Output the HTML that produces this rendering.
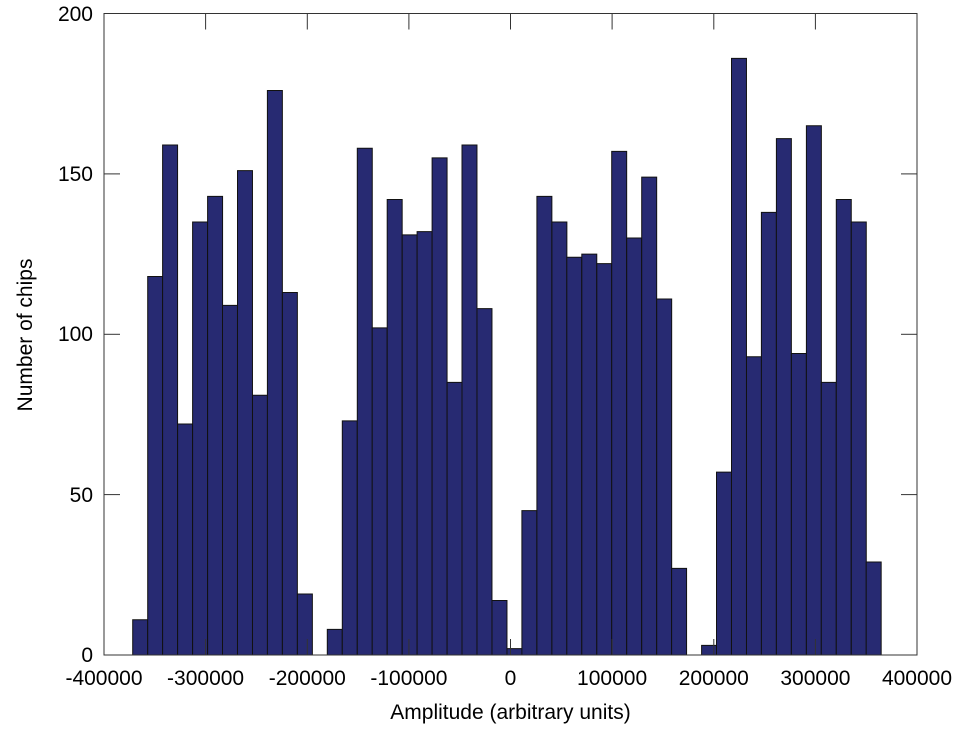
<!DOCTYPE html>
<html><head><style>
body{margin:0;background:#fff}
svg{display:block}
text{font-family:"Liberation Sans",Arial,sans-serif;font-size:21px;fill:#000}
.b rect{vector-effect:non-scaling-stroke}
</style></head><body>
<svg width="960" height="735" viewBox="0 0 960 735">
<g class="b" transform="translate(0,655) scale(1,-3.2075)" fill="#272a72" stroke="#111" stroke-width="1">
<rect x="132.7" y="0" width="14.97" height="11"/>
<rect x="147.7" y="0" width="14.97" height="118"/>
<rect x="162.6" y="0" width="14.97" height="159"/>
<rect x="177.6" y="0" width="14.97" height="72"/>
<rect x="192.6" y="0" width="14.97" height="135"/>
<rect x="207.6" y="0" width="14.97" height="143"/>
<rect x="222.5" y="0" width="14.97" height="109"/>
<rect x="237.5" y="0" width="14.97" height="151"/>
<rect x="252.5" y="0" width="14.97" height="81"/>
<rect x="267.4" y="0" width="14.97" height="176"/>
<rect x="282.4" y="0" width="14.97" height="113"/>
<rect x="297.4" y="0" width="14.97" height="19"/>
<rect x="327.3" y="0" width="14.97" height="8"/>
<rect x="342.3" y="0" width="14.97" height="73"/>
<rect x="357.3" y="0" width="14.97" height="158"/>
<rect x="372.2" y="0" width="14.97" height="102"/>
<rect x="387.2" y="0" width="14.97" height="142"/>
<rect x="402.2" y="0" width="14.97" height="131"/>
<rect x="417.1" y="0" width="14.97" height="132"/>
<rect x="432.1" y="0" width="14.97" height="155"/>
<rect x="447.1" y="0" width="14.97" height="85"/>
<rect x="462.0" y="0" width="14.97" height="159"/>
<rect x="477.0" y="0" width="14.97" height="108"/>
<rect x="492.0" y="0" width="14.97" height="17"/>
<rect x="507.0" y="0" width="14.97" height="2"/>
<rect x="521.9" y="0" width="14.97" height="45"/>
<rect x="536.9" y="0" width="14.97" height="143"/>
<rect x="551.9" y="0" width="14.97" height="135"/>
<rect x="566.8" y="0" width="14.97" height="124"/>
<rect x="581.8" y="0" width="14.97" height="125"/>
<rect x="596.8" y="0" width="14.97" height="122"/>
<rect x="611.7" y="0" width="14.97" height="157"/>
<rect x="626.7" y="0" width="14.97" height="130"/>
<rect x="641.7" y="0" width="14.97" height="149"/>
<rect x="656.7" y="0" width="14.97" height="111"/>
<rect x="671.6" y="0" width="14.97" height="27"/>
<rect x="701.6" y="0" width="14.97" height="3"/>
<rect x="716.5" y="0" width="14.97" height="57"/>
<rect x="731.5" y="0" width="14.97" height="186"/>
<rect x="746.5" y="0" width="14.97" height="93"/>
<rect x="761.4" y="0" width="14.97" height="138"/>
<rect x="776.4" y="0" width="14.97" height="161"/>
<rect x="791.4" y="0" width="14.97" height="94"/>
<rect x="806.4" y="0" width="14.97" height="165"/>
<rect x="821.3" y="0" width="14.97" height="85"/>
<rect x="836.3" y="0" width="14.97" height="142"/>
<rect x="851.3" y="0" width="14.97" height="135"/>
<rect x="866.2" y="0" width="14.97" height="29"/>
</g>
<rect x="104" y="13.5" width="813" height="641.5" fill="none" stroke="#333" stroke-width="1"/>
<g stroke="#333" stroke-width="1">
<line x1="104" y1="494.6" x2="120" y2="494.6"/><line x1="917" y1="494.6" x2="901" y2="494.6"/>
<line x1="104" y1="334.3" x2="120" y2="334.3"/><line x1="917" y1="334.3" x2="901" y2="334.3"/>
<line x1="104" y1="173.9" x2="120" y2="173.9"/><line x1="917" y1="173.9" x2="901" y2="173.9"/>
<line x1="205.6" y1="655" x2="205.6" y2="639"/><line x1="205.6" y1="13.5" x2="205.6" y2="29.5"/>
<line x1="307.3" y1="655" x2="307.3" y2="639"/><line x1="307.3" y1="13.5" x2="307.3" y2="29.5"/>
<line x1="408.9" y1="655" x2="408.9" y2="639"/><line x1="408.9" y1="13.5" x2="408.9" y2="29.5"/>
<line x1="510.5" y1="655" x2="510.5" y2="639"/><line x1="510.5" y1="13.5" x2="510.5" y2="29.5"/>
<line x1="612.1" y1="655" x2="612.1" y2="639"/><line x1="612.1" y1="13.5" x2="612.1" y2="29.5"/>
<line x1="713.8" y1="655" x2="713.8" y2="639"/><line x1="713.8" y1="13.5" x2="713.8" y2="29.5"/>
<line x1="815.4" y1="655" x2="815.4" y2="639"/><line x1="815.4" y1="13.5" x2="815.4" y2="29.5"/>
</g>
<g text-anchor="end">
<text x="93" y="662">0</text>
<text x="93" y="502">50</text>
<text x="93" y="341">100</text>
<text x="93" y="181">150</text>
<text x="93" y="21">200</text>
</g>
<g text-anchor="middle">
<text x="104" y="685">-400000</text>
<text x="205.6" y="685">-300000</text>
<text x="307.3" y="685">-200000</text>
<text x="408.9" y="685">-100000</text>
<text x="510.5" y="685">0</text>
<text x="612.1" y="685">100000</text>
<text x="713.8" y="685">200000</text>
<text x="815.4" y="685">300000</text>
<text x="917" y="685">400000</text>
<text x="510.5" y="719">Amplitude (arbitrary units)</text>
<text transform="translate(32,335) rotate(-90)">Number of chips</text>
</g>
</svg>
</body></html>
